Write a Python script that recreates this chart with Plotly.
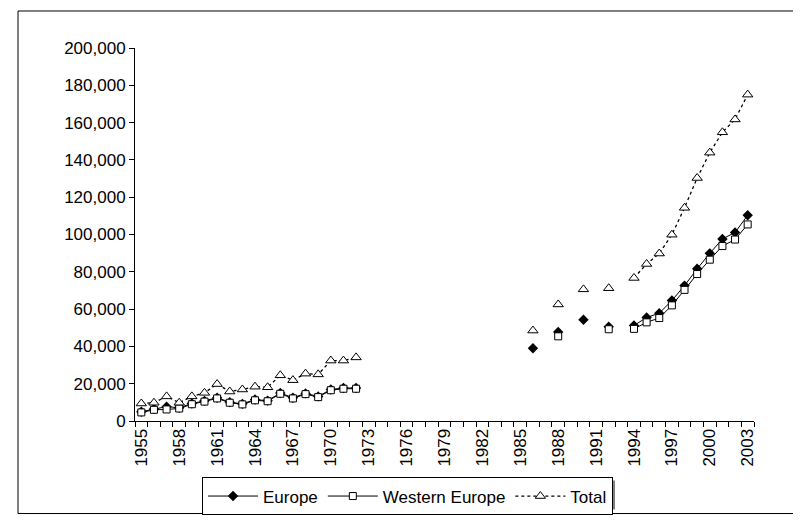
import plotly.graph_objects as go

# years on the category axis
years = list(range(1955, 2004))
tick_years = list(range(1955, 2004, 3))

# values (None = no data for that year)
europe = [5000, 6400, 7700, 7100, 9400, 10800, 12500, 10100, 9200, 11500,
          10900, 15000, 12500, 14800, 13200, 16900, 17700, 17700,
          None, None, None, None, None, None, None, None, None, None, None, None, None,
          39000, None, 47700, None, 54300, None, 50600, None,
          51200, 55500, 57800, 64600, 72600, 81600, 89900, 97600, 101100, 110300]

western_europe = [4600, 6000, 6200, 6700, 9000, 10400, 12100, 9800, 8900, 11100,
                  10600, 14600, 12100, 14400, 12800, 16500, 17300, 17300,
                  None, None, None, None, None, None, None, None, None, None, None, None, None,
                  None, None, 45400, None, None, None, 49200, None,
                  49400, 52900, 55200, 62000, 70300, 78800, 86500, 93800, 97300, 105400]

total = [9400, 9800, 13200, 9800, 13200, 15100, 19800, 15800, 16900, 18400,
         18100, 24500, 21900, 25400, 25000, 32400, 32400, 34100,
         None, None, None, None, None, None, None, None, None, None, None, None, None,
         48500, None, 62500, None, 70600, None, 71200, None,
         76700, 84200, 89800, 99900, 114300, 130300, 143900, 154800, 161700, 175000]

W, H = 801, 520
ML, MR, MT, MB = 127, 55, 40, 97
pw, ph = W - ML - MR, H - MT - MB


def px_x(p):
    return (p - ML) / pw


def px_y(p):
    return (H - MB - p) / ph


FONT = "Liberation Sans, Arial, sans-serif"

fig = go.Figure()
fig.add_trace(go.Scatter(x=years, y=europe, name="Europe", mode="lines+markers",
                         line=dict(color="black", width=1),
                         marker=dict(symbol="diamond", size=8, color="black")))
fig.add_trace(go.Scatter(x=years, y=western_europe, name="Western Europe", mode="lines+markers",
                         line=dict(color="black", width=1),
                         marker=dict(symbol="square", size=7, color="white",
                                     line=dict(color="black", width=1))))
fig.add_trace(go.Scatter(x=years, y=total, name="Total", mode="lines+markers",
                         line=dict(color="black", width=1.3, dash="dot"),
                         marker=dict(symbol="triangle-up", size=9, color="white",
                                     line=dict(color="black", width=1))))

# legend box (approximate) and its drop shadow
LX0, LX1, LY0, LY1 = 195, 604, 481, 511

fig.update_layout(
    width=W, height=H,
    margin=dict(l=ML, r=MR, t=MT, b=MB),
    paper_bgcolor="white", plot_bgcolor="white",
    font=dict(family=FONT, size=17, color="black"),
    showlegend=True,
    legend=dict(orientation="h", x=px_x((LX0 + LX1) / 2), xanchor="center", y=px_y(LY0), yanchor="top",
                bordercolor="black", borderwidth=1, bgcolor="white",
                font=dict(size=17), itemwidth=50, tracegroupgap=0),
    shapes=[dict(type="rect", xref="paper", yref="paper",
                 x0=px_x(10), x1=px_x(797), y0=px_y(518), y1=px_y(2),
                 line=dict(color="black", width=1), layer="below"),
            dict(type="rect", xref="paper", yref="paper",
                 x0=px_x(LX0 + 3), x1=px_x(LX1 + 3), y0=px_y(LY1 + 3), y1=px_y(LY0 + 3),
                 line=dict(width=0), fillcolor="#808080", layer="above")],
)

fig.update_xaxes(range=[1954.5, 2003.5], tickmode="array", tickvals=tick_years,
                 ticktext=[str(y) for y in tick_years], tickangle=-90, ticks="",
                 showline=True, linecolor="black", linewidth=1, showgrid=False, zeroline=False,
                 minor=dict(tickmode="array", tickvals=[y - 0.5 for y in years] + [2003.5],
                            ticks="outside", ticklen=5, tickcolor="black"))
fig.update_yaxes(range=[0, 200000], dtick=20000, tickformat=",", ticks="outside", ticklen=5,
                 tickcolor="black", showline=True, linecolor="black", linewidth=1,
                 showgrid=False, zeroline=False)

fig.write_html("out.html")
